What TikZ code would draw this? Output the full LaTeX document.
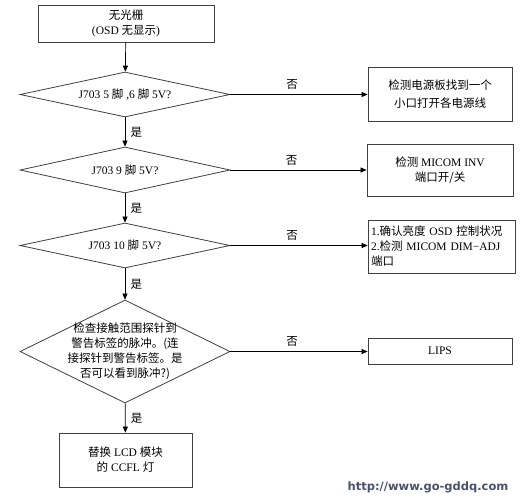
\documentclass[tikz,border=0pt]{standalone}
\usepackage{fontspec}
\setmainfont{Liberation Serif}
\newfontfamily\cjk{Noto Sans CJK SC}
\newfontfamily\urlfont{DejaVu Sans}
\usetikzlibrary{shapes.geometric,arrows.meta}
\newcommand{\zh}[1]{{\cjk #1}}
\tikzset{
  stepbox/.style={draw=black!75,line width=0.8pt,minimum width=#1,inner sep=2pt,align=center},
  decide/.style={diamond,draw=black!75,line width=0.8pt,minimum width=210pt,minimum height=#1,inner sep=0pt,aspect=4},
  flow/.style={-{Triangle[length=6pt,width=5pt]},line width=0.7pt},
  yes/.style={right=2pt,pos=0.5},
  no/.style={above=1pt,pos=0.45}
}
\begin{document}
\begin{tikzpicture}[x=1pt,y=-1pt,font=\fontsize{11.5}{15}\selectfont]
  \useasboundingbox[fill=white] (0,0) rectangle (522,501);
  % main column
  \node[stepbox=176pt,minimum height=37pt] (start) at (126,23.5) {\zh{无光栅}\\(OSD \zh{无显示})};
  \node[decide=45pt] (d1) at (125,94.5) {J703 5 \zh{脚} ,6 \zh{脚} 5V?};
  \node[decide=46pt] (d2) at (125,170) {J703 9 \zh{脚} 5V?};
  \node[decide=45pt] (d3) at (125,245.5) {J703 10 \zh{脚} 5V?};
  \node[decide=103pt] (d4) at (125,351.5) {};
  \node[align=center,inner sep=0pt] (d4t) at (d4) {\zh{检查接触范围探针到}\\\zh{警告标签的脉冲。(连}\\\zh{接探针到警告标签。是}\\\zh{否可以看到脉冲?)}};
  \node[stepbox=133pt,minimum height=54pt] (done) at (125.5,460) {\zh{替换} LCD \zh{模块}\\\zh{的} CCFL \zh{灯}};
  % right column
  \node[stepbox=144pt,minimum height=54pt,font=\fontsize{11.5}{18}\selectfont] (b1) at (440,94) {\zh{检测电源板找到一个}\\\zh{小口打开各电源线}};
  \node[stepbox=146pt,minimum height=52pt] (b2) at (440,170) {\zh{检测} MICOM INV\\\zh{端口开/关}};
  \node[stepbox=147pt,minimum height=53pt,align=left,text width=141pt] (b3) at (441.5,246.5) {1.\zh{确认亮度} OSD \zh{控制状况}\\2.\zh{检测} MICOM DIM−ADJ\\\zh{端口}};
  \node[stepbox=144pt,minimum height=26pt] (b4) at (440,351) {LIPS};
  % connectors
  \draw[flow] (start) -- (d1);
  \draw[flow] (d1) -- node[yes] {\zh{是}} (d2);
  \draw[flow] (d2) -- node[yes] {\zh{是}} (d3);
  \draw[flow] (d3) -- node[yes] {\zh{是}} (d4);
  \draw[flow] (d4) -- node[yes] {\zh{是}} (done);
  \draw[flow] (d1.east) -- node[no] {\zh{否}} (b1.west |- d1.east);
  \draw[flow] (d2.east) -- node[no] {\zh{否}} (b2.west |- d2.east);
  \draw[flow] (d3.east) -- node[no] {\zh{否}} (b3.west |- d3.east);
  \draw[flow] (d4.east) -- node[no] {\zh{否}} (b4.west |- d4.east);
  \node[font=\urlfont\bfseries\fontsize{11.5}{14}\selectfont,text={rgb,255:red,72;green,82;blue,108}] (url) at (428,487) {http://www.go-gddq.com};
\end{tikzpicture}
\end{document}
